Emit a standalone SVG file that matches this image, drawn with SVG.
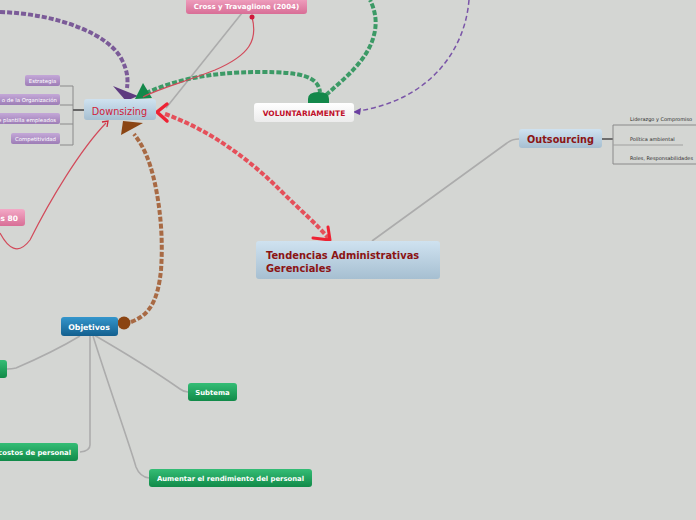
<svg xmlns="http://www.w3.org/2000/svg" width="696" height="520" viewBox="0 0 696 520">
<defs>
<linearGradient id="gBlue" x1="0" y1="0" x2="0" y2="1"><stop offset="0" stop-color="#cfe2f0"/><stop offset="1" stop-color="#a6bfd1"/></linearGradient>
<linearGradient id="gPink" x1="0" y1="0" x2="0" y2="1"><stop offset="0" stop-color="#f3a9c6"/><stop offset="1" stop-color="#d86e96"/></linearGradient>
<linearGradient id="gLav" x1="0" y1="0" x2="0" y2="1"><stop offset="0" stop-color="#c4a8d8"/><stop offset="1" stop-color="#9d7db6"/></linearGradient>
<linearGradient id="gGreen" x1="0" y1="0" x2="0" y2="1"><stop offset="0" stop-color="#34bd75"/><stop offset="1" stop-color="#118a48"/></linearGradient>
<linearGradient id="gObj" x1="0" y1="0" x2="0" y2="1"><stop offset="0" stop-color="#3496cc"/><stop offset="1" stop-color="#135f8e"/></linearGradient>
<linearGradient id="gWhite" x1="0" y1="0" x2="0" y2="1"><stop offset="0" stop-color="#ffffff"/><stop offset="1" stop-color="#ececec"/></linearGradient>
</defs>
<style>
text{font-family:"DejaVu Sans","Liberation Sans",sans-serif}
.b{font-weight:bold}
.w{fill:#ffffff}
.c{text-anchor:middle}
.gray{fill:none;stroke:#acacac;stroke-width:1.6}
.br{fill:none;stroke:#8a8a8a;stroke-width:1}
.thick{fill:none;stroke-width:4;stroke-dasharray:5 2}
.lav{font-size:5.4px;fill:#ffffff}
.sub{font-size:5px;fill:#2a2a2a}
.gtxt{font-size:6.85px;font-weight:bold;fill:#ffffff}
</style>
<rect width="696" height="520" fill="#d4d6d3"/>

<g id="connectors">
<path class="gray" d="M242,13 L166,108"/>
<path class="gray" d="M372,241 L507,143 Q512,139 519,139" stroke-width="2"/>
<path class="gray" d="M80,336 C60,348 30,362 16,368 Q12,369 7,369"/>
<path class="gray" d="M94,335 C120,350 160,375 180,389 Q184,392 188,392"/>
<path class="gray" d="M90,336 L90,445 Q90,451 80,452" stroke-width="2"/>
<path class="gray" d="M93,336 C110,390 128,440 136,467 Q140,477 149,478" stroke-width="2"/>
<path d="M602,139 H613" stroke="#6e6e6e" stroke-width="2"/>
<path class="br" d="M613,125 V164 M613,125 H696 M613,164 H696"/>
<path d="M613,145 H683" stroke="#a0a0a0" stroke-width="1.2"/>
<path class="br" d="M60,86 H73 V145 H60 M60,105 H73 M60,124 H73"/>
<path d="M73,110 H84" stroke="#666" stroke-width="2"/>
<path class="thick" d="M0,12 C60,14 110,35 122,60 C128,72 128,80 127,88" stroke="#7b5b98" stroke-dasharray="18 2"/>
<polygon points="113,86 138,96 126,101" fill="#5e3a80"/>
<path class="thick" d="M146,93 C175,80 210,72 260,72 C300,72 318,76 320,92" stroke="#3c9a66"/>
<path class="thick" d="M326,95 C345,78 368,60 374,35 C378,20 374,8 370,0" stroke="#3c9a66"/>
<path d="M308,103 V99 Q308,92 318.5,92 Q329,92 329,99 V103 Z" fill="#13884a"/>
<polygon points="143,83 152,98 135,99" fill="#13884a"/>
<path d="M469,0 C465,50 430,100 358,111" fill="none" stroke="#7a55a8" stroke-width="1.5" stroke-dasharray="5 3"/>
<polygon points="353,112 361,108 360,115" fill="#6a3fa0"/>
<path d="M252,17 C258,40 250,55 215,70 C185,82 160,88 143,97" fill="none" stroke="#d24a5a" stroke-width="1.2"/>
<circle cx="252" cy="17" r="2.5" fill="#d0183a"/>
<path d="M0,233 C8,248 18,256 30,240 C50,200 80,150 106,123" fill="none" stroke="#d24a5a" stroke-width="1.2"/>
<polyline points="102,122 108,121 107,127" fill="none" stroke="#d0283a" stroke-width="1.3"/>
<path class="thick" d="M165,114 C210,130 250,160 280,190 C300,210 318,225 329,239" stroke="#e5505a"/>
<polyline points="167,104 157,112 167,121" fill="none" stroke="#ee2233" stroke-width="3.5" stroke-linecap="round" stroke-linejoin="round"/>
<polyline points="313,238 330,240 328,227" fill="none" stroke="#ee2233" stroke-width="3" stroke-linecap="round" stroke-linejoin="round"/>
<path class="thick" d="M131,322 C150,315 158,300 161,270 C164,230 158,190 150,165 C145,150 140,142 134,134" stroke="#a86a44"/>
<circle cx="124" cy="323" r="6.5" fill="#8b4513"/>
<polygon points="123,121 143,123 121,135" fill="#8b4513"/>
</g>

<g id="node-tendencias">
<rect x="256" y="241" width="184" height="38" rx="3" fill="url(#gBlue)"/>
<text x="266" y="259" class="b" font-size="9.9" fill="#8b1414">Tendencias Administrativas</text>
<text x="266" y="271.5" class="b" font-size="9.9" fill="#8b1414">Gerenciales</text>
</g>
<g id="node-outsourcing">
<rect x="519" y="129" width="83" height="19" rx="3" fill="url(#gBlue)"/>
<text x="560.5" y="143" class="b c" font-size="9.7" fill="#8b1414">Outsourcing</text>
</g>
<g id="node-liderazgo"><text x="630" y="121" class="sub">Liderazgo y Compromiso</text></g>
<g id="node-politica"><text x="630" y="141" class="sub">Política ambiental</text></g>
<g id="node-roles"><text x="630" y="160" class="sub">Roles, Responsabilidades</text></g>

<g id="node-downsizing">
<rect x="84" y="99" width="72" height="21" rx="3" fill="url(#gBlue)"/>
<text x="119.5" y="114.5" class="c" font-size="9.7" fill="#d0203a">Downsizing</text>
</g>
<g id="node-estrategia">
<rect x="25" y="75" width="35" height="11" rx="2" fill="url(#gLav)"/>
<text x="42.5" y="83" class="lav c">Estrategia</text>
</g>
<g id="node-organizacion">
<rect x="-5" y="94" width="65" height="11" rx="2" fill="url(#gLav)"/>
<text x="57" y="102" class="lav" text-anchor="end">o de la Organización</text>
</g>
<g id="node-plantilla">
<rect x="-5" y="113" width="65" height="11" rx="2" fill="url(#gLav)"/>
<text x="56" y="121.5" class="lav" text-anchor="end">e plantilla empleados</text>
</g>
<g id="node-competitividad">
<rect x="11" y="133" width="49" height="11" rx="2" fill="url(#gLav)"/>
<text x="35.5" y="141" class="lav c">Competitividad</text>
</g>
<g id="node-cross">
<rect x="186" y="-4" width="121" height="18" rx="3" fill="url(#gPink)"/>
<text x="246.5" y="9" class="b w c" font-size="7">Cross y Travaglione (2004)</text>
</g>
<g id="node-80">
<rect x="-6" y="209" width="31" height="17" rx="3" fill="url(#gPink)"/>
<text x="18" y="221" class="b w" font-size="7.5" text-anchor="end">os 80</text>
</g>
<g id="node-voluntariamente">
<rect x="254" y="103" width="100" height="19" rx="3" fill="url(#gWhite)"/>
<text x="304" y="116" class="b c" font-size="7.5" fill="#c0102a">VOLUNTARIAMENTE</text>
</g>
<g id="node-objetivos">
<rect x="61" y="317" width="57" height="19" rx="3" fill="url(#gObj)"/>
<text x="89" y="330" class="b w c" font-size="7.8">Objetivos</text>
</g>
<g id="node-left-green">
<rect x="-6" y="360" width="13" height="18" rx="3" fill="url(#gGreen)"/>
</g>
<g id="node-subtema">
<rect x="188" y="383" width="49" height="18" rx="3" fill="url(#gGreen)"/>
<text x="212.5" y="395" class="gtxt c">Subtema</text>
</g>
<g id="node-costos">
<rect x="-6" y="443" width="84" height="18" rx="3" fill="url(#gGreen)"/>
<text x="71" y="455" class="gtxt" text-anchor="end">costos de personal</text>
</g>
<g id="node-aumentar">
<rect x="149" y="469" width="163" height="18" rx="3" fill="url(#gGreen)"/>
<text x="230.5" y="481" class="gtxt c">Aumentar el rendimiento del personal</text>
</g>
</svg>
